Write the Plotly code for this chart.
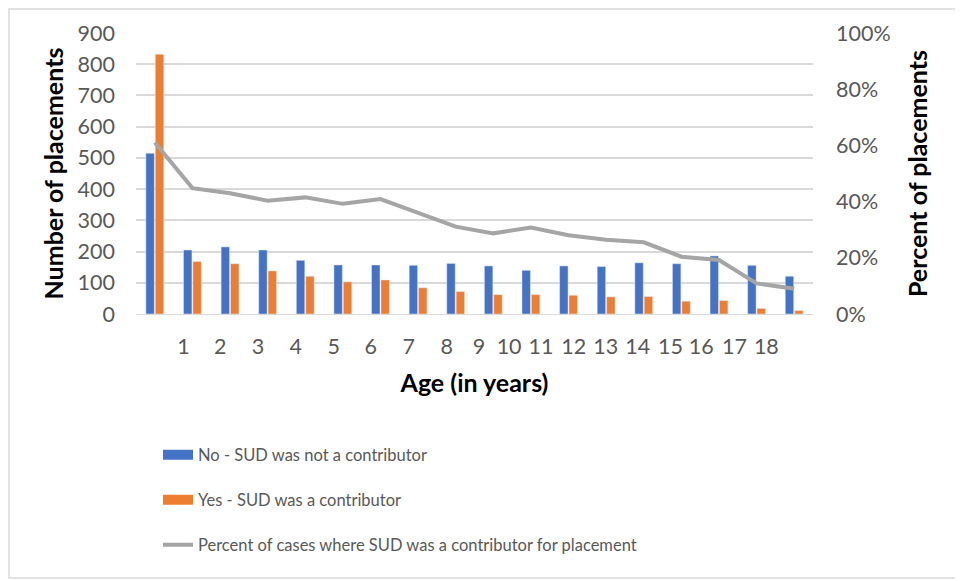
import plotly.graph_objects as go

ages = list(range(18))
no_sud = [515, 205, 215, 205, 172, 157, 157, 156, 162, 154, 140, 154, 152, 164, 161, 186, 156, 121]
yes_sud = [832, 168, 161, 138, 121, 103, 109, 84, 72, 62, 62, 60, 55, 56, 41, 43, 18, 11]
pct_sud = [0.61, 0.448, 0.43, 0.403, 0.415, 0.392, 0.409, 0.359, 0.311, 0.287, 0.308, 0.28, 0.264, 0.255, 0.204, 0.192, 0.109, 0.09]
tick_labels = [str(i) for i in range(1, 19)]
tick_pos = [0.76, 1.74, 2.74, 3.75, 4.76, 5.74, 6.75, 7.76, 8.62, 9.42, 10.27, 11.14, 11.99, 12.84, 13.71, 14.53, 15.41, 16.26]

BLUE = "#4472c4"
ORANGE = "#ed7d31"
GRAY = "#a5a5a5"
TXT = "#595959"
FONT = "Lato"
TICKSIZE = 21.5
TITLESIZE = 25

fig = go.Figure()
fig.add_trace(go.Bar(x=ages, y=no_sud, marker_color=BLUE, showlegend=False, name="No - SUD was not a contributor"))
fig.add_trace(go.Bar(x=ages, y=yes_sud, marker_color=ORANGE, showlegend=False, name="Yes - SUD was a contributor"))
fig.add_trace(go.Scatter(x=ages, y=pct_sud, yaxis="y2", mode="lines", line=dict(color=GRAY, width=4),
                         showlegend=False, name="Percent of cases where SUD was a contributor for placement"))
# legend entries
fig.add_trace(go.Scatter(x=[None], y=[None], mode="lines", line=dict(color=BLUE, width=10),
                         name="No - SUD was not a contributor", legendgroup="a"))
fig.add_trace(go.Scatter(x=[None], y=[None], mode="lines", line=dict(color=ORANGE, width=10),
                         name="Yes - SUD was a contributor", legendgroup="b"))
fig.add_trace(go.Scatter(x=[None], y=[None], mode="lines", line=dict(color=GRAY, width=4),
                         name="Percent of cases where SUD was a contributor for placement", legendgroup="c"))

W, H = 955, 573
L, R, T, B = 128, 150, 25, 267
pw, ph = W - L - R, H - T - B

fig.update_layout(
    width=W, height=H,
    margin=dict(l=L, r=R, t=T, b=B, autoexpand=False),
    paper_bgcolor="white", plot_bgcolor="white",
    font=dict(family=FONT, size=TICKSIZE, color=TXT),
    barmode="group", bargap=0.5, bargroupgap=0.1,
    xaxis=dict(range=[-0.5, 17.5], tickmode="array", tickvals=tick_pos, ticktext=tick_labels,
               showgrid=False, showline=True, linecolor="#d9d9d9", linewidth=1, zeroline=False,
               ticks="", ticklabelstandoff=13, automargin=False, tickfont=dict(size=TICKSIZE),
               title=dict(text="<b>Age (in years)</b>", font=dict(size=TITLESIZE, color="black"), standoff=16)),
    yaxis=dict(range=[0, 900], dtick=100, showgrid=True, gridcolor="#d9d9d9", gridwidth=1.5,
               zeroline=False, ticks="", ticklabelstandoff=20, automargin=False, tickfont=dict(size=TICKSIZE),
               title=dict(text="<b>Number of placements</b>", font=dict(size=TITLESIZE, color="black"), standoff=6)),
    yaxis2=dict(range=[0, 1], dtick=0.2, tickformat=".0%", overlaying="y", side="right",
                showgrid=False, zeroline=False, ticks="", ticklabelstandoff=22, automargin=False,
                tickfont=dict(size=TICKSIZE),
                title=dict(text="<b>Percent of placements</b>", font=dict(size=TITLESIZE, color="black"), standoff=19)),
    legend=dict(x=0.0325, y=-0.44, xanchor="left", yanchor="top", tracegroupgap=20.5,
                font=dict(size=16.5, color=TXT), bgcolor="rgba(0,0,0,0)"),
    shapes=[dict(type="rect", xref="paper", yref="paper",
                 x0=(1 - L) / pw, x1=(W - 3 - L) / pw,
                 y0=(3 - B) / ph, y1=(H - B - 1) / ph,
                 line=dict(color="#d9d9d9", width=1.5), layer="below")],
)

fig.write_html("out.html")
